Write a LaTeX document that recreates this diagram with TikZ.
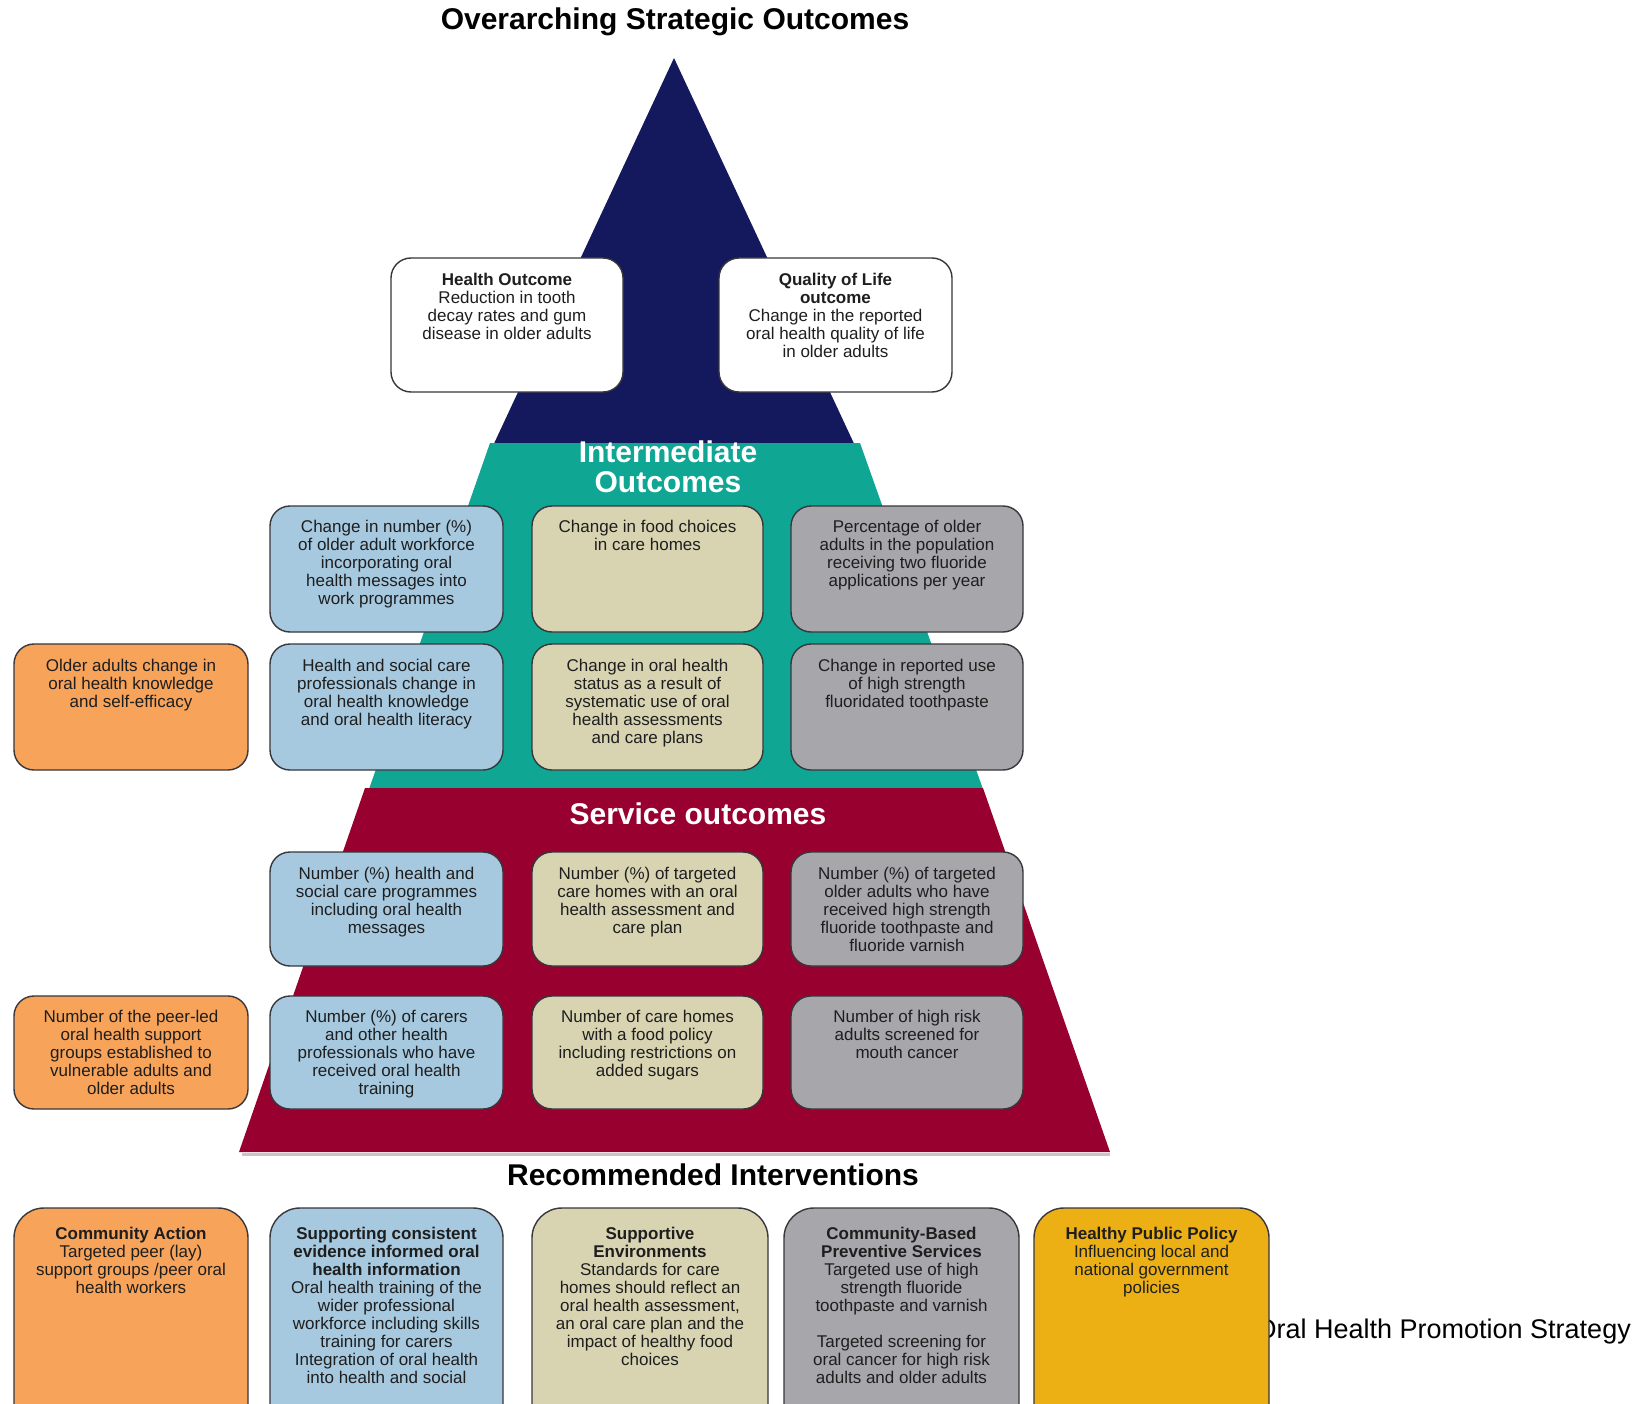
\documentclass[tikz,border=0pt]{standalone}
\usepackage{fontspec}
\setmainfont{Liberation Sans}
\definecolor{cnavy}{RGB}{20,24,92}
\definecolor{cteal}{RGB}{16,166,148}
\definecolor{ccrim}{RGB}{152,0,48}
\definecolor{cblue}{RGB}{166,201,224}
\definecolor{cbeige}{RGB}{216,212,178}
\definecolor{cgrey}{RGB}{167,167,171}
\definecolor{corange}{RGB}{247,163,90}
\definecolor{cyellow}{RGB}{236,176,20}
\definecolor{cbord}{RGB}{55,55,60}
\definecolor{ctext}{RGB}{30,30,30}
\tikzset{
  bx/.style={draw=cbord, line width=1.4pt, rounded corners=20pt, inner sep=0pt},
  bbx/.style={draw=cbord, line width=1.4pt, rounded corners=30pt, inner sep=0pt},
  tx/.style={anchor=north, align=center, inner sep=0pt, text=ctext,
    font=\fontsize{17}{18}\selectfont},
  hdw/.style={anchor=base, inner sep=0pt, text=white, font=\fontsize{30}{31}\selectfont\bfseries},
  hdk/.style={anchor=base, inner sep=0pt, text=black, font=\fontsize{30}{31}\selectfont\bfseries},
}
\begin{document}
\begin{tikzpicture}[x=1pt,y=-1pt]
\useasboundingbox (0,0) rectangle (1651,1404);
\clip (0,0) rectangle (1651,1404);
\fill[white] (0,0) rectangle (1651,1404);

% pyramid layers
\fill[cnavy] (674,58) -- (857,450) -- (491,450) -- cycle;
\fill[cteal] (490,443) -- (860,443) -- (984,792) -- (368,792) -- cycle;
\draw[gray!45, line width=3pt] (242,1154.5) -- (1110,1154.5);
\fill[ccrim] (365,788) -- (983,788) -- (1110,1152) -- (239,1152) -- cycle;

% headings
\node[hdk] (title) at (675,30) {Overarching Strategic Outcomes};
\node[hdw] (ih1) at (668,462) {Intermediate};
\node[hdw] (ih2) at (668,492) {Outcomes};
\node[hdw] (sh) at (698,824) {Service outcomes};
\node[hdk] (rh) at (713,1185) {Recommended Interventions};

% strategic outcome boxes
\node[bx, fill=white, minimum width=232pt, minimum height=134pt] (ho) at (507,325) {};
\node[tx] (hot) at ([yshift=-16pt]ho.north) {\textbf{Health Outcome}\\Reduction in tooth\\decay rates and gum\\disease in older adults};
\node[bx, fill=white, minimum width=233pt, minimum height=134pt] (qo) at (835.5,325) {};
\node[tx] (qot) at ([yshift=-16pt]qo.north) {\textbf{Quality of Life}\\\textbf{outcome}\\Change in the reported\\oral health quality of life\\in older adults};

% intermediate row 1
\node[bx, fill=cblue, minimum width=233pt, minimum height=126pt] (i11) at (386.5,569) {};
\node[tx] (i11t) at ([yshift=-15pt]i11.north) {Change in number (\%)\\of older adult workforce\\incorporating oral\\health messages into\\work programmes};
\node[bx, fill=cbeige, minimum width=231pt, minimum height=126pt] (i12) at (647.5,569) {};
\node[tx] (i12t) at ([yshift=-15pt]i12.north) {Change in food choices\\in care homes};
\node[bx, fill=cgrey, minimum width=232pt, minimum height=126pt] (i13) at (907,569) {};
\node[tx] (i13t) at ([yshift=-15pt]i13.north) {Percentage of older\\adults in the population\\receiving two fluoride\\applications per year};

% intermediate row 2
\node[bx, fill=corange, minimum width=234pt, minimum height=126pt] (i20) at (131,707) {};
\node[tx] (i20t) at ([yshift=-16pt]i20.north) {Older adults change in\\oral health knowledge\\and self-efficacy};
\node[bx, fill=cblue, minimum width=233pt, minimum height=126pt] (i21) at (386.5,707) {};
\node[tx] (i21t) at ([yshift=-16pt]i21.north) {Health and social care\\professionals change in\\oral health knowledge\\and oral health literacy};
\node[bx, fill=cbeige, minimum width=231pt, minimum height=126pt] (i22) at (647.5,707) {};
\node[tx] (i22t) at ([yshift=-16pt]i22.north) {Change in oral health\\status as a result of\\systematic use of oral\\health assessments\\and care plans};
\node[bx, fill=cgrey, minimum width=232pt, minimum height=126pt] (i23) at (907,707) {};
\node[tx] (i23t) at ([yshift=-16pt]i23.north) {Change in reported use\\of high strength\\fluoridated toothpaste};

% service row 1
\node[bx, fill=cblue, minimum width=233pt, minimum height=114pt] (s11) at (386.5,909) {};
\node[tx] (s11t) at ([yshift=-16pt]s11.north) {Number (\%) health and\\social care programmes\\including oral health\\messages};
\node[bx, fill=cbeige, minimum width=231pt, minimum height=114pt] (s12) at (647.5,909) {};
\node[tx] (s12t) at ([yshift=-16pt]s12.north) {Number (\%) of targeted\\care homes with an oral\\health assessment and\\care plan};
\node[bx, fill=cgrey, minimum width=232pt, minimum height=114pt] (s13) at (907,909) {};
\node[tx] (s13t) at ([yshift=-16pt]s13.north) {Number (\%) of targeted\\older adults who have\\received high strength\\fluoride toothpaste and\\fluoride varnish};

% service row 2
\node[bx, fill=corange, minimum width=234pt, minimum height=113pt] (s20) at (131,1052.5) {};
\node[tx] (s20t) at ([yshift=-15pt]s20.north) {Number of the peer-led\\oral health support\\groups established to\\vulnerable adults and\\older adults};
\node[bx, fill=cblue, minimum width=233pt, minimum height=113pt] (s21) at (386.5,1052.5) {};
\node[tx] (s21t) at ([yshift=-15pt]s21.north) {Number (\%) of carers\\and other health\\professionals who have\\received oral health\\training};
\node[bx, fill=cbeige, minimum width=231pt, minimum height=113pt] (s22) at (647.5,1052.5) {};
\node[tx] (s22t) at ([yshift=-15pt]s22.north) {Number of care homes\\with a food policy\\including restrictions on\\added sugars};
\node[bx, fill=cgrey, minimum width=232pt, minimum height=113pt] (s23) at (907,1052.5) {};
\node[tx] (s23t) at ([yshift=-15pt]s23.north) {Number of high risk\\adults screened for\\mouth cancer};

% side caption (partly hidden behind the last box)
\node[anchor=base east, inner sep=0pt, font=\fontsize{27}{29}\selectfont] (cap) at (1631,1338) {Oral Health Promotion Strategy};

% interventions
\node[bbx, fill=corange, minimum width=234pt, minimum height=240pt] (r1) at (131,1328) {};
\node[tx] (r1t) at ([yshift=-20pt]r1.north) {\textbf{Community Action}\\Targeted peer (lay)\\support groups /peer oral\\health workers};
\node[bbx, fill=cblue, minimum width=233pt, minimum height=240pt] (r2) at (386.5,1328) {};
\node[tx] (r2t) at ([yshift=-20pt]r2.north) {\textbf{Supporting consistent}\\\textbf{evidence informed oral}\\\textbf{health information}\\Oral health training of the\\wider professional\\workforce including skills\\training for carers\\Integration of oral health\\into health and social};
\node[bbx, fill=cbeige, minimum width=236pt, minimum height=240pt] (r3) at (650,1328) {};
\node[tx] (r3t) at ([yshift=-20pt]r3.north) {\textbf{Supportive}\\\textbf{Environments}\\Standards for care\\homes should reflect an\\oral health assessment,\\an oral care plan and the\\impact of healthy food\\choices};
\node[bbx, fill=cgrey, minimum width=235pt, minimum height=240pt] (r4) at (901.5,1328) {};
\node[tx] (r4t) at ([yshift=-20pt]r4.north) {\textbf{Community-Based}\\\textbf{Preventive Services}\\Targeted use of high\\strength fluoride\\toothpaste and varnish\\[18pt]Targeted screening for\\oral cancer for high risk\\adults and older adults};
\node[bbx, fill=cyellow, minimum width=235pt, minimum height=240pt] (r5) at (1151.5,1328) {};
\node[tx] (r5t) at ([yshift=-20pt]r5.north) {\textbf{Healthy Public Policy}\\Influencing local and\\national government\\policies};
\end{tikzpicture}
\end{document}
